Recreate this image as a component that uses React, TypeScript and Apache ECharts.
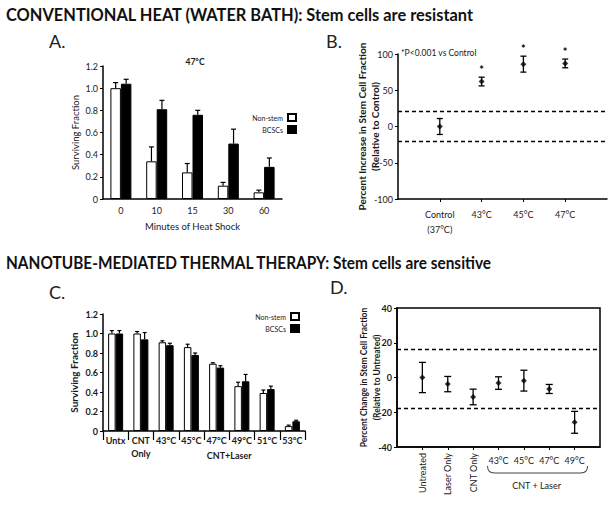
import React, { useEffect, useRef } from 'react';
import * as echarts from 'echarts';

// ---------- Panel A ----------
const aCategories = ['0', '10', '15', '30', '60'];
const aNonStem = [1.0, 0.34, 0.24, 0.12, 0.06];
const aNonStemErr = [0.05, 0.13, 0.08, 0.03, 0.02];
const aBCSC = [1.04, 0.81, 0.76, 0.5, 0.29];
const aBCSCErr = [0.04, 0.08, 0.04, 0.13, 0.08];

// ---------- Panel B ----------
const bCategories = ['Control\n(37°C)', '43°C', '45°C', '47°C'];
const bMean = [0, 62, 86, 87];
const bErr = [11, 6, 11, 6];
const bSignificant = [false, true, true, true];
const bThresholds = [21, -21];

// ---------- Panel C ----------
const cCategories = ['Untx', 'CNT\nOnly', '43°C', '45°C', '47°C', '49°C', '51°C', '53°C'];
const cNonStem = [1.0, 1.0, 0.91, 0.86, 0.69, 0.46, 0.39, 0.05];
const cNonStemErr = [0.03, 0.02, 0.015, 0.03, 0.01, 0.04, 0.03, 0.01];
const cBCSC = [1.0, 0.94, 0.88, 0.78, 0.65, 0.51, 0.43, 0.1];
const cBCSCErr = [0.03, 0.07, 0.02, 0.02, 0.02, 0.07, 0.03, 0.01];

// ---------- Panel D ----------
const dCategories = ['Untreated', 'Laser Only', 'CNT Only', '43°C', '45°C', '47°C', '49°C'];
const dRotated = [true, true, true, false, false, false, false];
const dMean = [0, -3.8, -11.2, -3.2, -1.8, -6.6, -25.8];
const dErr = [8.7, 4.4, 4.5, 3.6, 6, 2.6, 6.3];
const dThresholds = [16.5, -17.5];

const FONT = 'Lato, "Open Sans", "DejaVu Sans", sans-serif';
const INK = '#1a1a1a';

const A_BAR = 10.5;
const C_BAR = 7.5;

function upErr(offset: number, cap: number) {
  return (params: any, api: any) => {
    const x = api.value(0);
    const v = api.value(1);
    const e = api.value(2);
    const p0 = api.coord([x, v]);
    const p1 = api.coord([x, v + e]);
    const cx = p0[0] + offset;
    const st = { stroke: '#000', lineWidth: 1.2 };
    return {
      type: 'group',
      children: [
        { type: 'line', shape: { x1: cx, y1: p0[1], x2: cx, y2: p1[1] }, style: st },
        { type: 'line', shape: { x1: cx - cap / 2, y1: p1[1], x2: cx + cap / 2, y2: p1[1] }, style: st },
      ],
    };
  };
}

function bothErr(cap: number) {
  return (params: any, api: any) => {
    const x = api.value(0);
    const v = api.value(1);
    const e = api.value(2);
    const p1 = api.coord([x, v + e]);
    const p2 = api.coord([x, v - e]);
    const cx = p1[0];
    const st = { stroke: '#000', lineWidth: 1.3 };
    return {
      type: 'group',
      children: [
        { type: 'line', shape: { x1: cx, y1: p1[1], x2: cx, y2: p2[1] }, style: st },
        { type: 'line', shape: { x1: cx - cap / 2, y1: p1[1], x2: cx + cap / 2, y2: p1[1] }, style: st },
        { type: 'line', shape: { x1: cx - cap / 2, y1: p2[1], x2: cx + cap / 2, y2: p2[1] }, style: st },
      ],
    };
  };
}

const axisLineStyle = { onZero: false, lineStyle: { color: '#000', width: 1.5 } };
const fracFmt = (v: number) => (v === 0 ? '0' : v.toFixed(1));

export default function App() {
  const ref = useRef<HTMLDivElement>(null);
  useEffect(() => {
    const chart = echarts.init(ref.current!, null, { renderer: 'svg' });

    const padB = ['', ...bCategories, ''];
    const padD = ['', ...dCategories, ''];

    const option: any = {
      animation: false,
      backgroundColor: '#fff',
      textStyle: { fontFamily: FONT, color: INK },
      grid: [
        { left: 103, top: 66, width: 179, height: 133, outerBoundsMode: 'none' },
        { left: 398, top: 54, width: 209, height: 145, outerBoundsMode: 'none' },
        { left: 103, top: 314, width: 202, height: 117, outerBoundsMode: 'none' },
        {
          left: 397, top: 308, width: 203, height: 139, outerBoundsMode: 'none',
          show: true, borderColor: '#000', borderWidth: 1.5, backgroundColor: 'transparent',
        },
      ],
      xAxis: [
        {
          type: 'category', gridIndex: 0, data: aCategories,
          axisLine: axisLineStyle, axisTick: { show: false },
          axisLabel: { color: INK, fontSize: 9, margin: 7, fontFamily: FONT },
          name: 'Minutes of Heat Shock', nameLocation: 'middle', nameGap: 22,
          nameTextStyle: { color: INK, fontSize: 9.5, fontFamily: FONT },
        },
        {
          type: 'category', gridIndex: 1, data: padB, boundaryGap: false,
          axisLine: axisLineStyle,
          axisTick: { show: true, length: 3, lineStyle: { color: '#000' }, interval: (i: number) => i > 0 && i < padB.length - 1 },
          axisLabel: { color: INK, fontSize: 9, margin: 8, interval: 0, lineHeight: 15, fontFamily: FONT },
        },
        {
          type: 'category', gridIndex: 2, data: cCategories,
          axisLine: axisLineStyle,
          axisTick: { show: true, length: 9, lineStyle: { color: '#000', width: 1.2 } },
          axisLabel: { color: INK, fontSize: 9, margin: 3, interval: 0, lineHeight: 13, fontWeight: 'bold', fontFamily: FONT },
        },
        {
          type: 'category', gridIndex: 3, data: padD, boundaryGap: false, position: 'bottom', offset: 0,
          axisLine: axisLineStyle,
          axisTick: { show: true, length: 3, lineStyle: { color: '#000' }, interval: (i: number) => i > 0 && i < padD.length - 1 },
          axisLabel: {
            color: INK, fontSize: 9, margin: 6, interval: 0, rotate: 90, fontFamily: FONT,
            formatter: (v: string, i: number) => (i > 0 && i < padD.length - 1 && dRotated[i - 1] ? v : ''),
          },
        },
        {
          type: 'category', gridIndex: 3, data: padD, boundaryGap: false, position: 'bottom', offset: 0,
          axisLine: { show: false, onZero: false }, axisTick: { show: false },
          axisLabel: {
            color: INK, fontSize: 9, margin: 9, interval: 0, rotate: 0, fontFamily: FONT,
            formatter: (v: string, i: number) => (i > 0 && i < padD.length - 1 && !dRotated[i - 1] ? v : ''),
          },
        },
      ],
      yAxis: [
        {
          type: 'value', gridIndex: 0, min: 0, max: 1.2, interval: 0.2,
          axisLine: { show: true, ...axisLineStyle }, axisTick: { show: true, length: 3, lineStyle: { color: '#000' } },
          splitLine: { show: false },
          axisLabel: { color: INK, fontSize: 9, margin: 5, formatter: fracFmt, fontFamily: FONT },
          name: 'Surviving Fraction', nameLocation: 'middle', nameGap: 23,
          nameTextStyle: { color: INK, fontSize: 9.5, fontFamily: FONT },
        },
        {
          type: 'value', gridIndex: 1, min: -100, max: 100, interval: 50,
          axisLine: { show: true, ...axisLineStyle }, axisTick: { show: true, length: 3, lineStyle: { color: '#000' } },
          splitLine: { show: false },
          axisLabel: { color: INK, fontSize: 9, margin: 5, fontFamily: FONT },
          name: 'Percent Increase in Stem Cell Fraction\n(Relative to Control)', nameLocation: 'middle',
          nameGap: 17, nameMoveOverlap: false,
          nameTextStyle: { color: INK, fontSize: 10, fontWeight: 'bold', lineHeight: 13, fontFamily: FONT },
        },
        {
          type: 'value', gridIndex: 2, min: 0, max: 1.2, interval: 0.2,
          axisLine: { show: true, ...axisLineStyle }, axisTick: { show: true, length: 3, lineStyle: { color: '#000' } },
          splitLine: { show: false },
          axisLabel: { color: INK, fontSize: 9, margin: 5, formatter: fracFmt, fontWeight: 'bold', fontFamily: FONT },
          name: 'Surviving Fraction', nameLocation: 'middle', nameGap: 24,
          nameTextStyle: { color: INK, fontSize: 10, fontWeight: 'bold', fontFamily: FONT },
        },
        {
          type: 'value', gridIndex: 3, min: -40, max: 40, interval: 20,
          axisLine: { show: true, ...axisLineStyle }, axisTick: { show: true, length: 3, lineStyle: { color: '#000' } },
          splitLine: { show: false },
          axisLabel: { color: INK, fontSize: 9, margin: 5, fontWeight: 'bold', fontFamily: FONT },
          name: 'Percent Change in Stem Cell Fraction\n(Relative to Untreated)', nameLocation: 'middle',
          nameGap: 14, nameMoveOverlap: false,
          nameTextStyle: { color: INK, fontSize: 8.5, fontWeight: 'bold', lineHeight: 13, fontFamily: FONT },
        },
      ],
      legend: [
        {
          data: ['Non-stem', 'BCSCs'], orient: 'vertical', right: 313, top: 108, align: 'right',
          itemWidth: 8, itemHeight: 7, itemGap: 3, icon: 'rect', selectedMode: false,
          textStyle: { fontSize: 7, color: INK, fontFamily: FONT, padding: [0, 0, 0, 0] },
        },
        {
          data: ['Non-stem', 'BCSCs'], orient: 'vertical', right: 310, top: 307, align: 'right',
          itemWidth: 8, itemHeight: 7, itemGap: 3, icon: 'rect', selectedMode: false,
          textStyle: { fontSize: 7, color: INK, fontFamily: FONT },
        },
      ],
      series: [
        // A bars
        {
          type: 'bar', name: 'Non-stem', xAxisIndex: 0, yAxisIndex: 0, data: aNonStem,
          barWidth: A_BAR, barGap: '0%', itemStyle: { color: '#fff', borderColor: '#000', borderWidth: 1 },
        },
        {
          type: 'bar', name: 'BCSCs', xAxisIndex: 0, yAxisIndex: 0, data: aBCSC,
          barWidth: A_BAR, barGap: '0%', itemStyle: { color: '#000', borderColor: '#000', borderWidth: 1 },
        },
        {
          type: 'custom', xAxisIndex: 0, yAxisIndex: 0, renderItem: upErr(-A_BAR / 2, 5),
          encode: { x: 0, y: 1 }, data: aNonStem.map((v, i) => [i, v, aNonStemErr[i]]), z: 1,
        },
        {
          type: 'custom', xAxisIndex: 0, yAxisIndex: 0, renderItem: upErr(A_BAR / 2, 5),
          encode: { x: 0, y: 1 }, data: aBCSC.map((v, i) => [i, v, aBCSCErr[i]]), z: 1,
        },
        // B
        {
          type: 'custom', xAxisIndex: 1, yAxisIndex: 1, renderItem: bothErr(6),
          encode: { x: 0, y: 1 }, data: bMean.map((v, i) => [i + 1, v, bErr[i]]),
        },
        {
          type: 'scatter', xAxisIndex: 1, yAxisIndex: 1, symbol: 'diamond', symbolSize: 6,
          itemStyle: { color: '#000' }, data: bMean.map((v, i) => [i + 1, v]),
          markLine: {
            silent: true, symbol: ['none', 'none'], label: { show: false },
            lineStyle: { color: '#000', type: [4, 3], width: 1.3 },
            data: bThresholds.map((t) => ({ yAxis: t })),
          },
        },
        {
          type: 'scatter', xAxisIndex: 1, yAxisIndex: 1, symbol: 'circle', symbolSize: 2,
          itemStyle: { color: 'rgba(255,255,255,0)' },
          label: {
            show: true, position: 'top', distance: 1, formatter: '*', fontSize: 11, fontWeight: 'bold',
            color: '#000', opacity: 1, fontFamily: FONT,
          },
          data: bMean.map((v, i) => (bSignificant[i] ? [i + 1, v + bErr[i]] : null)).filter((d) => d),
        },
        // C bars
        {
          type: 'bar', name: 'Non-stem', xAxisIndex: 2, yAxisIndex: 2, data: cNonStem,
          barWidth: C_BAR, barGap: '0%', itemStyle: { color: '#fff', borderColor: '#000', borderWidth: 1 },
        },
        {
          type: 'bar', name: 'BCSCs', xAxisIndex: 2, yAxisIndex: 2, data: cBCSC,
          barWidth: C_BAR, barGap: '0%', itemStyle: { color: '#000', borderColor: '#000', borderWidth: 1 },
        },
        {
          type: 'custom', xAxisIndex: 2, yAxisIndex: 2, renderItem: upErr(-C_BAR / 2, 4),
          encode: { x: 0, y: 1 }, data: cNonStem.map((v, i) => [i, v, cNonStemErr[i]]),
        },
        {
          type: 'custom', xAxisIndex: 2, yAxisIndex: 2, renderItem: upErr(C_BAR / 2, 4),
          encode: { x: 0, y: 1 }, data: cBCSC.map((v, i) => [i, v, cBCSCErr[i]]),
        },
        // D
        {
          type: 'custom', xAxisIndex: 3, yAxisIndex: 3, renderItem: bothErr(7),
          encode: { x: 0, y: 1 }, data: dMean.map((v, i) => [i + 1, v, dErr[i]]),
        },
        {
          type: 'scatter', xAxisIndex: 3, yAxisIndex: 3, symbol: 'diamond', symbolSize: 6,
          itemStyle: { color: '#000' }, data: dMean.map((v, i) => [i + 1, v]),
          markLine: {
            silent: true, symbol: ['none', 'none'], label: { show: false },
            lineStyle: { color: '#000', type: [4, 3], width: 1.3 },
            data: dThresholds.map((t) => ({ yAxis: t })),
          },
        },
      ],
    };

    chart.setOption(option);

    // annotation positions derived from axes
    const cx = (axis: number, idx: number) => chart.convertToPixel({ xAxisIndex: axis }, idx) as number;
    const cLaserMid = (cx(2, 2) + cx(2, 7)) / 2;
    const dL = cx(3, 4) - 11;
    const dR = cx(3, 7) + 13;
    const dMid = (cx(3, 4) + cx(3, 7)) / 2;

    echarts.graphic.registerShape(
      'brace',
      echarts.graphic.extendPath('M0,0 Q0,7 7,7 L93,7 Q100,7 100,0', {}) as any
    );

    const headerFont = `bold 17px ${FONT}`;
    const panelFont = `18px ${FONT}`;

    chart.setOption({
      graphic: [
        { type: 'text', x: 6, y: 15, scaleX: 0.965, style: { text: 'CONVENTIONAL HEAT (WATER BATH): Stem cells are resistant', font: headerFont, fill: '#111', textVerticalAlign: 'middle' } },
        { type: 'text', x: 6, y: 262, scaleX: 0.906, style: { text: 'NANOTUBE-MEDIATED THERMAL THERAPY: Stem cells are sensitive', font: headerFont, fill: '#111', textVerticalAlign: 'middle' } },
        { type: 'text', x: 49, y: 41, style: { text: 'A.', font: panelFont, fill: '#222', textVerticalAlign: 'middle' } },
        { type: 'text', x: 326, y: 41, style: { text: 'B.', font: panelFont, fill: '#222', textVerticalAlign: 'middle' } },
        { type: 'text', x: 49, y: 292, style: { text: 'C.', font: panelFont, fill: '#222', textVerticalAlign: 'middle' } },
        { type: 'text', x: 330, y: 287, style: { text: 'D.', font: panelFont, fill: '#222', textVerticalAlign: 'middle' } },
        { type: 'text', x: 195, y: 62, style: { text: '47°C', font: `bold 8.5px ${FONT}`, fill: INK, textAlign: 'center', textVerticalAlign: 'middle' } },
        { type: 'text', x: 401, y: 53, style: { text: '*P<0.001 vs Control', font: `8.5px ${FONT}`, fill: INK, textVerticalAlign: 'middle' } },
        { type: 'text', x: cLaserMid, y: 455, style: { text: 'CNT+Laser', font: `bold 9px ${FONT}`, fill: INK, textAlign: 'center', textVerticalAlign: 'middle' } },
        { type: 'text', x: dMid, y: 485, style: { text: 'CNT + Laser', font: `9px ${FONT}`, fill: INK, textAlign: 'center', textVerticalAlign: 'middle' } },
        {
          type: 'brace', x: dL, y: 466, scaleX: (dR - dL) / 100, scaleY: 1,
          style: { stroke: '#444', fill: 'none', lineWidth: 1 },
        },
      ],
    });

    return () => chart.dispose();
  }, []);
  return (
    <div
      ref={ref}
      style={{ position: 'absolute', left: 0, top: 0, width: 615, height: 517, background: '#fff' }}
    />
  );
}
